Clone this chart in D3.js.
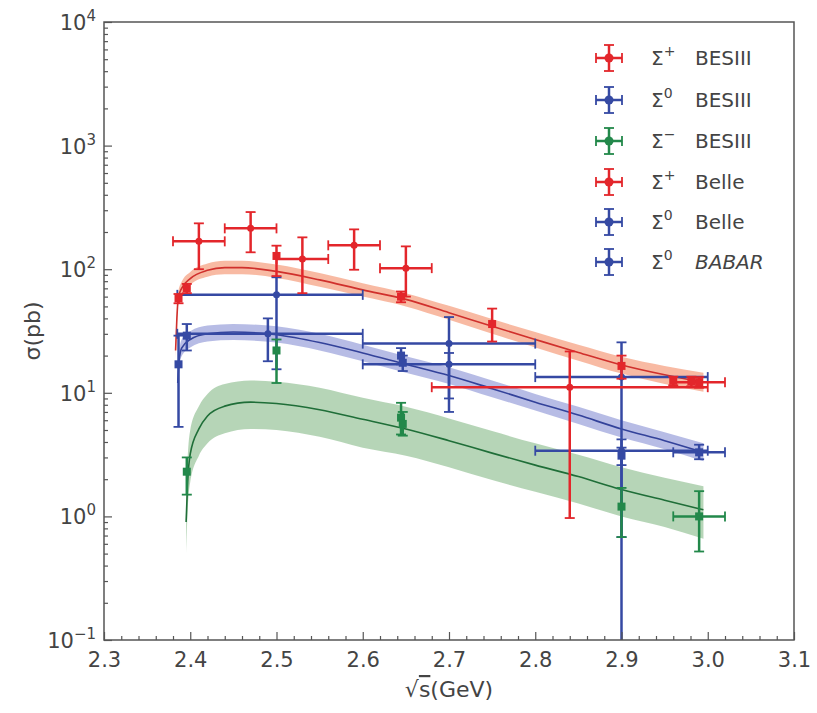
<!DOCTYPE html>
<html>
<head>
<meta charset="utf-8">
<script src="https://cdn.jsdelivr.net/npm/d3@7"></script>
<style>
body{margin:0;background:#fff;}
text{font-family:"DejaVu Sans",sans-serif;fill:#444;}
</style>
</head>
<body>
<svg width="817" height="713"></svg>
<script>
// ---- data ----
var xTicks=[2.3,2.4,2.5,2.6,2.7,2.8,2.9,3.0,3.1];
var yTicks=[0.1,1,10,100,1000,10000];
var yExp=["\u22121","0","1","2","3","4"];

// BESIII points (small errors)
var spBes=[
 {x:2.3864,y:58,lo:53,hi:63},
 {x:2.3960,y:70,lo:64,hi:76},
 {x:2.5000,y:128,lo:88,hi:155},
 {x:2.6444,y:60,lo:54,hi:66},
 {x:2.7500,y:36,lo:26,hi:48},
 {x:2.9000,y:16.5,lo:13,hi:20},
 {x:2.9600,y:12.5,lo:11.5,hi:13.5},
 {x:2.9810,y:12.4,lo:11.3,hi:13.5},
 {x:2.9900,y:12.2,lo:11,hi:13.4,xlo:2.96,xhi:3.02}
];
var s0Bes=[
 {x:2.3864,y:17,lo:5.3,hi:29},
 {x:2.3960,y:29,lo:22,hi:36},
 {x:2.6444,y:20,lo:17,hi:23},
 {x:2.6464,y:17.5,lo:15,hi:20},
 {x:2.9000,y:3.1,lo:2.6,hi:3.6},
 {x:2.9900,y:3.3,lo:2.9,hi:3.8,xlo:2.96,xhi:3.02}
];
var smBes=[
 {x:2.3960,y:2.3,lo:1.5,hi:3.0},
 {x:2.5000,y:22,lo:12,hi:27},
 {x:2.6444,y:6.3,lo:4.6,hi:8.3},
 {x:2.6464,y:5.6,lo:4.5,hi:7},
 {x:2.9000,y:1.2,lo:0.68,hi:1.7},
 {x:2.9900,y:1.0,lo:0.52,hi:1.6,xlo:2.96,xhi:3.02}
];
// Belle / BABAR bins
var spBelle=[
 {x:2.41,y:168,lo:100,hi:235,xlo:2.38,xhi:2.44},
 {x:2.47,y:214,lo:137,hi:290,xlo:2.44,xhi:2.50},
 {x:2.53,y:121,lo:64,hi:181,xlo:2.50,xhi:2.56},
 {x:2.59,y:156,lo:99,hi:210,xlo:2.56,xhi:2.62},
 {x:2.65,y:102,lo:60,hi:153,xlo:2.62,xhi:2.68},
 {x:2.84,y:11.1,lo:0.97,hi:21.6,xlo:2.68,xhi:3.00}
];
var s0Belle=[
 {x:2.49,y:30,lo:18,hi:40,xlo:2.385,xhi:2.6},
 {x:2.70,y:17,lo:9,hi:21,xlo:2.6,xhi:2.8},
 {x:2.90,y:3.4,lo:0.68,hi:4.2,xlo:2.8,xhi:3.0}
];
var s0Babar=[
 {x:2.50,y:62,lo:15.5,hi:86,xlo:2.385,xhi:2.6},
 {x:2.70,y:25,lo:7,hi:41,xlo:2.6,xhi:2.8},
 {x:2.90,y:13.4,lo:0.05,hi:25.6,xlo:2.8,xhi:3.0}
];

// fit curves and bands
var redFitX=[2.3830,2.3845,2.3860,2.3900,2.4000,2.4200,2.4400,2.4600,2.5000,2.5500,2.6000,2.6500,2.7000,2.7500,2.8000,2.8500,2.9000,2.9500,2.9950];
var redFit=[22,40,58,70,84,98,103,103,96,82,68,57,44.5,34.5,27,21.2,16.8,14,12.2];
var redHi=[25,45,65,79,95,111,117,117,109,93,77,64,50.5,39.5,31,24.5,19.6,16.5,14.5];
var redLo=[19,35,51,62,75,87,91,91,85,72,60,50,39,30,23.3,18.2,14.3,11.8,10.2];

var blueFitX=[2.3855,2.3870,2.3900,2.4000,2.4200,2.4500,2.5000,2.5500,2.6000,2.6500,2.7000,2.7500,2.8000,2.8500,2.9000,2.9500,2.9950];
var blueFit=[12,18,23,27,30,31,29.5,25.5,21,17,13.8,10.8,8.4,6.6,5.1,4.1,3.3];
var blueHi=[14,21,27,31.5,35,36,34.5,30,24.5,19.8,16.1,12.6,9.8,7.7,6.0,4.8,3.9];
var blueLo=[10.3,15.5,19.8,23.3,26,26.7,25.5,22,18,14.5,11.8,9.2,7.2,5.6,4.35,3.5,2.8];

var greenFitX=[2.3952,2.3970,2.4000,2.4100,2.4200,2.4400,2.4700,2.5000,2.5500,2.6000,2.6500,2.7000,2.7500,2.8000,2.8500,2.9000,2.9500,2.9950];
var greenFit=[0.9,1.9,3.2,5.1,6.5,7.8,8.4,8.2,7.3,6.1,5.1,4.1,3.25,2.6,2.1,1.65,1.35,1.13];
var greenHi=[1.5,3.0,5.0,7.8,9.8,11.8,12.6,12.3,11,9.1,7.7,6.2,4.9,3.9,3.15,2.5,2.05,1.75];
var greenLo=[0.5,1.1,1.9,3.1,3.9,4.7,5.1,5.0,4.4,3.6,3.1,2.5,1.97,1.58,1.27,1.0,0.82,0.66];

var RED="#e3262b", BLUE="#3549a3", GREEN="#22884a";

var pL=104, pR=794, pT=22, pB=640;
var svg=d3.select("svg");
var x=d3.scaleLinear().domain([2.3,3.1]).range([pL,pR]);
var y=d3.scaleLog().domain([0.1,10000]).range([pB,pT]);

svg.append("clipPath").attr("id","clip")
.append("rect").attr("x",pL).attr("y",pT).attr("width",pR-pL).attr("height",pB-pT);

var drawBand=function(xs,lo,hi,fill,op){
  var pts=xs.map(function(d,i){return {x:d,lo:lo[i],hi:hi[i]};});
  var area=d3.area()
  .x(function(d){return x(d.x);})
  .y0(function(d){return y(d.lo);})
  .y1(function(d){return y(d.hi);})
  .curve(d3.curveMonotoneX);
  svg.append("path").datum(pts)
  .attr("clip-path","url(#clip)")
  .attr("d",area).attr("fill",fill).attr("opacity",op);
}

var drawFit=function(xs,vals,color){
  var pts=xs.map(function(d,i){return {x:d,y:vals[i]};});
  var line=d3.line()
  .x(function(d){return x(d.x);})
  .y(function(d){return y(d.y);})
  .curve(d3.curveMonotoneX);
  svg.append("path").datum(pts)
  .attr("clip-path","url(#clip)")
  .attr("d",line).attr("fill","none").attr("stroke",color).attr("stroke-width",1.6);
}

var drawPoints=function(data,color,square){
  var g=svg.append("g").attr("clip-path","url(#clip)")
  .attr("stroke",color).attr("fill",color).attr("stroke-width",2.5);
  var cap=5;
  g.selectAll("line.v").data(data).enter().append("line")
  .attr("x1",function(d){return x(d.x);})
  .attr("x2",function(d){return x(d.x);})
  .attr("y1",function(d){return y(d.lo);})
  .attr("y2",function(d){return y(d.hi);});
  g.selectAll("line.ct").data(data).enter().append("line")
  .attr("x1",function(d){return x(d.x)-cap;})
  .attr("x2",function(d){return x(d.x)+cap;})
  .attr("y1",function(d){return y(d.hi);})
  .attr("y2",function(d){return y(d.hi);}).attr("stroke-width",1.8);
  g.selectAll("line.cb").data(data).enter().append("line")
  .attr("x1",function(d){return x(d.x)-cap;})
  .attr("x2",function(d){return x(d.x)+cap;})
  .attr("y1",function(d){return y(d.lo);})
  .attr("y2",function(d){return y(d.lo);}).attr("stroke-width",1.8);
  var hb=data.filter(function(d){return d.xlo!==undefined;});
  g.selectAll("line.h").data(hb).enter().append("line")
  .attr("x1",function(d){return x(d.xlo);})
  .attr("x2",function(d){return x(d.xhi);})
  .attr("y1",function(d){return y(d.y);})
  .attr("y2",function(d){return y(d.y);});
  g.selectAll("line.cl").data(hb).enter().append("line")
  .attr("x1",function(d){return x(d.xlo);})
  .attr("x2",function(d){return x(d.xlo);})
  .attr("y1",function(d){return y(d.y)-cap;})
  .attr("y2",function(d){return y(d.y)+cap;}).attr("stroke-width",1.8);
  g.selectAll("line.cr").data(hb).enter().append("line")
  .attr("x1",function(d){return x(d.xhi);})
  .attr("x2",function(d){return x(d.xhi);})
  .attr("y1",function(d){return y(d.y)-cap;})
  .attr("y2",function(d){return y(d.y)+cap;}).attr("stroke-width",1.8);
  if(square){
    g.selectAll("rect").data(data).enter().append("rect")
    .attr("x",function(d){return x(d.x)-4;})
    .attr("y",function(d){return y(d.y)-4;})
    .attr("width",8).attr("height",8).attr("stroke","none");
  } else {
    g.selectAll("circle").data(data).enter().append("circle")
    .attr("cx",function(d){return x(d.x);})
    .attr("cy",function(d){return y(d.y);})
    .attr("r",3.5).attr("stroke","none");
  }
}

drawBand(greenFitX,greenLo,greenHi,"#9dc79f",0.75);
drawBand(blueFitX,blueLo,blueHi,"#98a0da",0.7);
drawBand(redFitX,redLo,redHi,"#f6a384",0.75);
drawFit(greenFitX,greenFit,"#1f6e38");
drawFit(blueFitX,blueFit,"#33429a");
drawFit(redFitX,redFit,"#d0302c");

drawPoints(s0Babar,BLUE,false);
drawPoints(s0Belle,BLUE,false);
drawPoints(spBelle,RED,false);
drawPoints(smBes,GREEN,true);
drawPoints(s0Bes,BLUE,true);
drawPoints(spBes,RED,true);

// ---- axes ----
var xMinor=d3.range(2.3,3.1001,0.02).filter(function(v){return Math.abs(v*10-Math.round(v*10))>0.01;});
var yMinor=[];
for(var e=-1;e<4;e++){for(var m=2;m<10;m++){yMinor.push(m*Math.pow(10,e));}}

var gx=svg.append("g").attr("transform","translate(0,"+pB+")")
.call(d3.axisBottom(x).tickValues(xTicks).tickSize(-8).tickPadding(12).tickFormat(d3.format(".1f")));
var gxm=svg.append("g").attr("transform","translate(0,"+pB+")")
.call(d3.axisBottom(x).tickValues(xMinor).tickSize(-4).tickFormat(""));
var gy=svg.append("g").attr("transform","translate("+pL+",0)")
.call(d3.axisLeft(y).tickValues(yTicks).tickSize(-8).tickFormat(""));
var gym=svg.append("g").attr("transform","translate("+pL+",0)")
.call(d3.axisLeft(y).tickValues(yMinor).tickSize(-4).tickFormat(""));
[gx,gxm,gy,gym].forEach(function(g){
  g.select(".domain").remove();
  g.selectAll("line").attr("stroke","#555").attr("stroke-width",1.2);
});
gx.selectAll("text").attr("font-size",21).attr("fill","#444").attr("font-family","DejaVu Sans");

svg.selectAll("text.ylab").data(yTicks).enter().append("text")
.attr("class","ylab")
.attr("x",pL-8)
.attr("y",function(d){return y(d)+8;})
.attr("text-anchor","end")
.attr("font-size",21)
.each(function(d,i){
  var t=d3.select(this);
  t.append("tspan").text("10");
  t.append("tspan").attr("dy",-9).attr("font-size",15).text(yExp[i]);
});

svg.append("rect").attr("x",pL).attr("y",pT).attr("width",pR-pL).attr("height",pB-pT)
.attr("fill","none").attr("stroke","#555").attr("stroke-width",1.5);

svg.append("text")
.attr("transform","translate(40,"+((pT+pB)/2)+") rotate(-90)")
.attr("text-anchor","middle").attr("font-size",22).text("\u03c3(pb)");

var xl=svg.append("text").attr("x",(pL+pR)/2).attr("y",697)
.attr("text-anchor","middle").attr("font-size",22);
xl.append("tspan").text("\u221a");
xl.append("tspan").attr("text-decoration","overline").text("s");
xl.append("tspan").text("(GeV)");

// ---- legend ----
var legColor=[RED,BLUE,GREEN,RED,BLUE,BLUE];
var legSup=["+","0","\u2212","+","0","0"];
var legName=["BESIII","BESIII","BESIII","Belle","Belle","BABAR"];
var legY=[58,100,141,182,222,262];

var lg=svg.append("g");
legY.forEach(function(ly,i){
  var c=legColor[i], mx=609;
  var g=lg.append("g").attr("stroke",c).attr("stroke-width",2.5);
  g.append("line").attr("x1",mx-13).attr("x2",mx+13).attr("y1",ly).attr("y2",ly);
  g.append("line").attr("x1",mx).attr("x2",mx).attr("y1",ly-13).attr("y2",ly+13);
  g.append("line").attr("x1",mx-5).attr("x2",mx+5).attr("y1",ly-13).attr("y2",ly-13).attr("stroke-width",1.8);
  g.append("line").attr("x1",mx-5).attr("x2",mx+5).attr("y1",ly+13).attr("y2",ly+13).attr("stroke-width",1.8);
  g.append("line").attr("x1",mx-13).attr("x2",mx-13).attr("y1",ly-5).attr("y2",ly+5).attr("stroke-width",1.8);
  g.append("line").attr("x1",mx+13).attr("x2",mx+13).attr("y1",ly-5).attr("y2",ly+5).attr("stroke-width",1.8);
  g.append("circle").attr("cx",mx).attr("cy",ly).attr("r",4.5).attr("fill",c).attr("stroke","none");
  var t=lg.append("text").attr("x",651).attr("y",ly+7).attr("font-size",20);
  t.append("tspan").text("\u03a3");
  t.append("tspan").attr("dy",-9).attr("font-size",14).text(legSup[i]);
  var n=t.append("tspan").attr("x",695).attr("dy",9).text(legName[i]);
  if(legName[i]=="BABAR"){n.attr("font-style","italic");}
});
</script>
</body>
</html>
